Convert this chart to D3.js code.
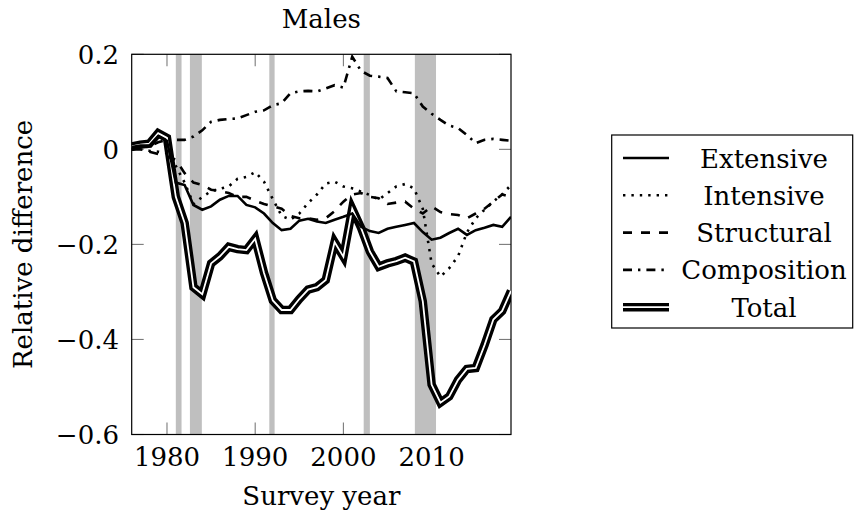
<!DOCTYPE html>
<html>
<head>
<meta charset="utf-8">
<script src="https://cdn.jsdelivr.net/npm/d3@7/dist/d3.min.js"></script>
<style>
  body { margin: 0; background: #fff; }
</style>
</head>
<body>
<div id="chart"></div>
<script>
// survey years
var years = [1976, 1977, 1978, 1979, 1980, 1981, 1982, 1983, 1984, 1985,
             1986, 1987, 1988, 1989, 1990, 1991, 1992, 1993, 1994, 1995,
             1996, 1997, 1998, 1999, 2000, 2001, 2002, 2003, 2004, 2005,
             2006, 2007, 2008, 2009, 2010, 2011, 2012, 2013, 2014, 2015,
             2016, 2017, 2018, 2019];

var extensive = [0.005, 0.008, 0.008, 0.028, 0.018, -0.07, -0.075, -0.117, -0.127, -0.12,
                 -0.106, -0.098, -0.098, -0.117, -0.122, -0.135, -0.155, -0.17, -0.167, -0.15,
                 -0.146, -0.152, -0.155, -0.148, -0.142, -0.135, -0.163, -0.172, -0.176, -0.167,
                 -0.163, -0.159, -0.155, -0.174, -0.19, -0.186, -0.176, -0.167, -0.18, -0.17,
                 -0.165, -0.159, -0.163, -0.142];

var intensive = [0, 0, -0.003, -0.005, -0.008, -0.035, -0.07, -0.115, -0.1, -0.088,
                 -0.083, -0.078, -0.062, -0.058, -0.048, -0.068, -0.105, -0.14, -0.148, -0.135,
                 -0.113, -0.095, -0.072, -0.068, -0.078, -0.082, -0.089, -0.096, -0.106, -0.092,
                 -0.078, -0.073, -0.082, -0.125, -0.24, -0.268, -0.25, -0.225, -0.175, -0.145,
                 -0.127, -0.11, -0.095, -0.075];

var structural = [0, 0, -0.005, -0.01, -0.015, -0.022, -0.05, -0.07, -0.075, -0.085,
                  -0.088, -0.092, -0.1, -0.1, -0.108, -0.115, -0.12, -0.125, -0.14, -0.145,
                  -0.145, -0.148, -0.145, -0.13, -0.11, -0.095, -0.092, -0.1, -0.103, -0.115,
                  -0.112, -0.11, -0.125, -0.135, -0.12, -0.132, -0.136, -0.138, -0.145, -0.135,
                  -0.125, -0.11, -0.095, -0.1];

var composition = [0, 0.003, 0.006, 0.015, 0.02, 0.02, 0.02, 0.027, 0.04, 0.058,
                   0.062, 0.064, 0.065, 0.072, 0.079, 0.082, 0.093, 0.097, 0.118, 0.122,
                   0.123, 0.122, 0.128, 0.135, 0.13, 0.195, 0.165, 0.155, 0.153, 0.15,
                   0.122, 0.12, 0.118, 0.09, 0.075, 0.062, 0.05, 0.045, 0.03, 0.013,
                   0.02, 0.022, 0.02, 0.018];

var total = [0.006, 0.01, 0.012, 0.034, 0.024, -0.1, -0.155, -0.29, -0.305, -0.24,
             -0.225, -0.205, -0.21, -0.212, -0.188, -0.26, -0.318, -0.338, -0.338, -0.315,
             -0.295, -0.29, -0.275, -0.195, -0.226, -0.125, -0.165, -0.215, -0.247, -0.24,
             -0.235, -0.228, -0.236, -0.32, -0.495, -0.533, -0.52, -0.485, -0.462, -0.46,
             -0.412, -0.358, -0.34, -0.298];

// recession periods (shaded), in survey years
var recessionStart = [1981.0, 1982.6, 1991.6, 2002.3, 2008.1];
var recessionEnd   = [1981.65, 1983.95, 1992.2, 2003.0, 2010.5];

var xTicks = [1980, 1990, 2000, 2010];
var yTicks = [-0.6, -0.4, -0.2, 0, 0.2];

var seriesNames = ["Extensive", "Intensive", "Structural", "Composition", "Total"];

//Width and height
var w = 856, h = 518;
var pLeft = 131.7, pRight = 511, pTop = 54.3, pBottom = 434.5;
var serif = "DejaVu Serif";
var fs = "26px";

var svg = d3.select("#chart")
  .append("svg")
  .attr("width", w)
  .attr("height", h)
  .style("font-family", serif);

var x = d3.scaleLinear().domain([1976, 2019]).range([pLeft, pRight]);
var y = d3.scaleLinear().domain([-0.6, 0.2]).range([pBottom, pTop]);

var fmt = function(d) { return d === 0 ? "0" : d3.format(".1f")(d).replace("-", "\u2212"); };

// ticks (inward, all four sides)
var tickLen = 12;
var tickG = svg.append("g")
  .attr("stroke", "#7a7a7a")
  .attr("stroke-width", 1.1);
xTicks.forEach(function(t) {
  tickG.append("line").attr("x1", x(t)).attr("x2", x(t)).attr("y1", pBottom).attr("y2", pBottom - tickLen);
  tickG.append("line").attr("x1", x(t)).attr("x2", x(t)).attr("y1", pTop).attr("y2", pTop + tickLen);
});
yTicks.forEach(function(t) {
  tickG.append("line").attr("x1", pLeft).attr("x2", pLeft + tickLen).attr("y1", y(t)).attr("y2", y(t));
  tickG.append("line").attr("x1", pRight).attr("x2", pRight - tickLen).attr("y1", y(t)).attr("y2", y(t));
});

// recession bands
svg.selectAll("rect.band")
  .data(recessionStart)
  .enter()
  .append("rect")
  .attr("class", "band")
  .attr("x", function(d) { return x(d); })
  .attr("width", function(d, i) { return x(recessionEnd[i]) - x(d); })
  .attr("y", pTop)
  .attr("height", pBottom - pTop)
  .attr("fill", "#bfbfbf");

// axis box
svg.append("rect")
  .attr("x", pLeft).attr("y", pTop)
  .attr("width", pRight - pLeft).attr("height", pBottom - pTop)
  .attr("fill", "none")
  .attr("stroke", "#000")
  .attr("stroke-width", 1.2);

// tick labels
svg.selectAll("text.xt")
  .data(xTicks)
  .enter()
  .append("text")
  .attr("class", "xt")
  .attr("x", function(d) { return x(d); })
  .attr("y", 466)
  .attr("text-anchor", "middle")
  .style("font-size", fs)
  .text(function(d) { return d; });

svg.selectAll("text.yt")
  .data(yTicks)
  .enter()
  .append("text")
  .attr("class", "yt")
  .attr("x", 119)
  .attr("y", function(d) { return y(d) + 9.5; })
  .attr("text-anchor", "end")
  .style("font-size", fs)
  .text(fmt);

// titles
svg.append("text")
  .attr("x", (pLeft + pRight) / 2)
  .attr("y", 28)
  .attr("text-anchor", "middle")
  .style("font-size", fs)
  .text("Males");

svg.append("text")
  .attr("x", (pLeft + pRight) / 2)
  .attr("y", 505)
  .attr("text-anchor", "middle")
  .style("font-size", fs)
  .text("Survey year");

svg.append("text")
  .attr("transform", "translate(32," + ((pTop + pBottom) / 2) + ") rotate(-90)")
  .attr("text-anchor", "middle")
  .style("font-size", fs)
  .text("Relative difference");

// lines
svg.append("clipPath").attr("id", "clip")
  .append("rect")
  .attr("x", pLeft).attr("y", pTop)
  .attr("width", pRight - pLeft).attr("height", pBottom - pTop);

var line = d3.line()
  .x(function(d, i) { return x(years[i]); })
  .y(function(d) { return y(d); });

var styles = {
  "Extensive":   { data: extensive,   dash: null },
  "Intensive":   { data: intensive,   dash: "2.4,6" },
  "Structural":  { data: structural,  dash: "9,9" },
  "Composition": { data: composition, dash: "9,6,2.4,6" }
};

var plot = svg.append("g").attr("clip-path", "url(#clip)");

// total as a double line
plot.append("path")
  .attr("d", line(total))
  .attr("fill", "none")
  .attr("stroke", "#000")
  .attr("stroke-width", 8.5)
  .attr("stroke-linejoin", "miter");
plot.append("path")
  .attr("d", line(total))
  .attr("fill", "none")
  .attr("stroke", "#fff")
  .attr("stroke-width", 1.8)
  .attr("stroke-linejoin", "miter");

["Structural", "Intensive", "Composition", "Extensive"].forEach(function(name) {
  plot.append("path")
    .attr("d", line(styles[name].data))
    .attr("fill", "none")
    .attr("stroke", "#000")
    .attr("stroke-width", 2.6)
    .attr("stroke-dasharray", styles[name].dash)
    .attr("stroke-linejoin", "miter");
});

// legend
var lg = svg.append("g");
lg.append("rect")
  .attr("x", 611.7).attr("y", 135)
  .attr("width", 241).attr("height", 193)
  .attr("fill", "#fff")
  .attr("stroke", "#000")
  .attr("stroke-width", 1.2);

seriesNames.forEach(function(name, i) {
  var ly = 158 + i * 37.3;
  if (name === "Total") {
    lg.append("line").attr("x1", 623).attr("x2", 669).attr("y1", ly).attr("y2", ly)
      .attr("stroke", "#000").attr("stroke-width", 8.5);
    lg.append("line").attr("x1", 623).attr("x2", 669).attr("y1", ly).attr("y2", ly)
      .attr("stroke", "#fff").attr("stroke-width", 1.8);
  } else {
    lg.append("line").attr("x1", 623).attr("x2", 669).attr("y1", ly).attr("y2", ly)
      .attr("stroke", "#000").attr("stroke-width", 2.6)
      .attr("stroke-dasharray", styles[name].dash);
  }
  lg.append("text")
    .attr("x", 764)
    .attr("y", ly + 9.5)
    .attr("text-anchor", "middle")
    .style("font-size", fs)
    .text(name);
});
</script>
</body>
</html>
